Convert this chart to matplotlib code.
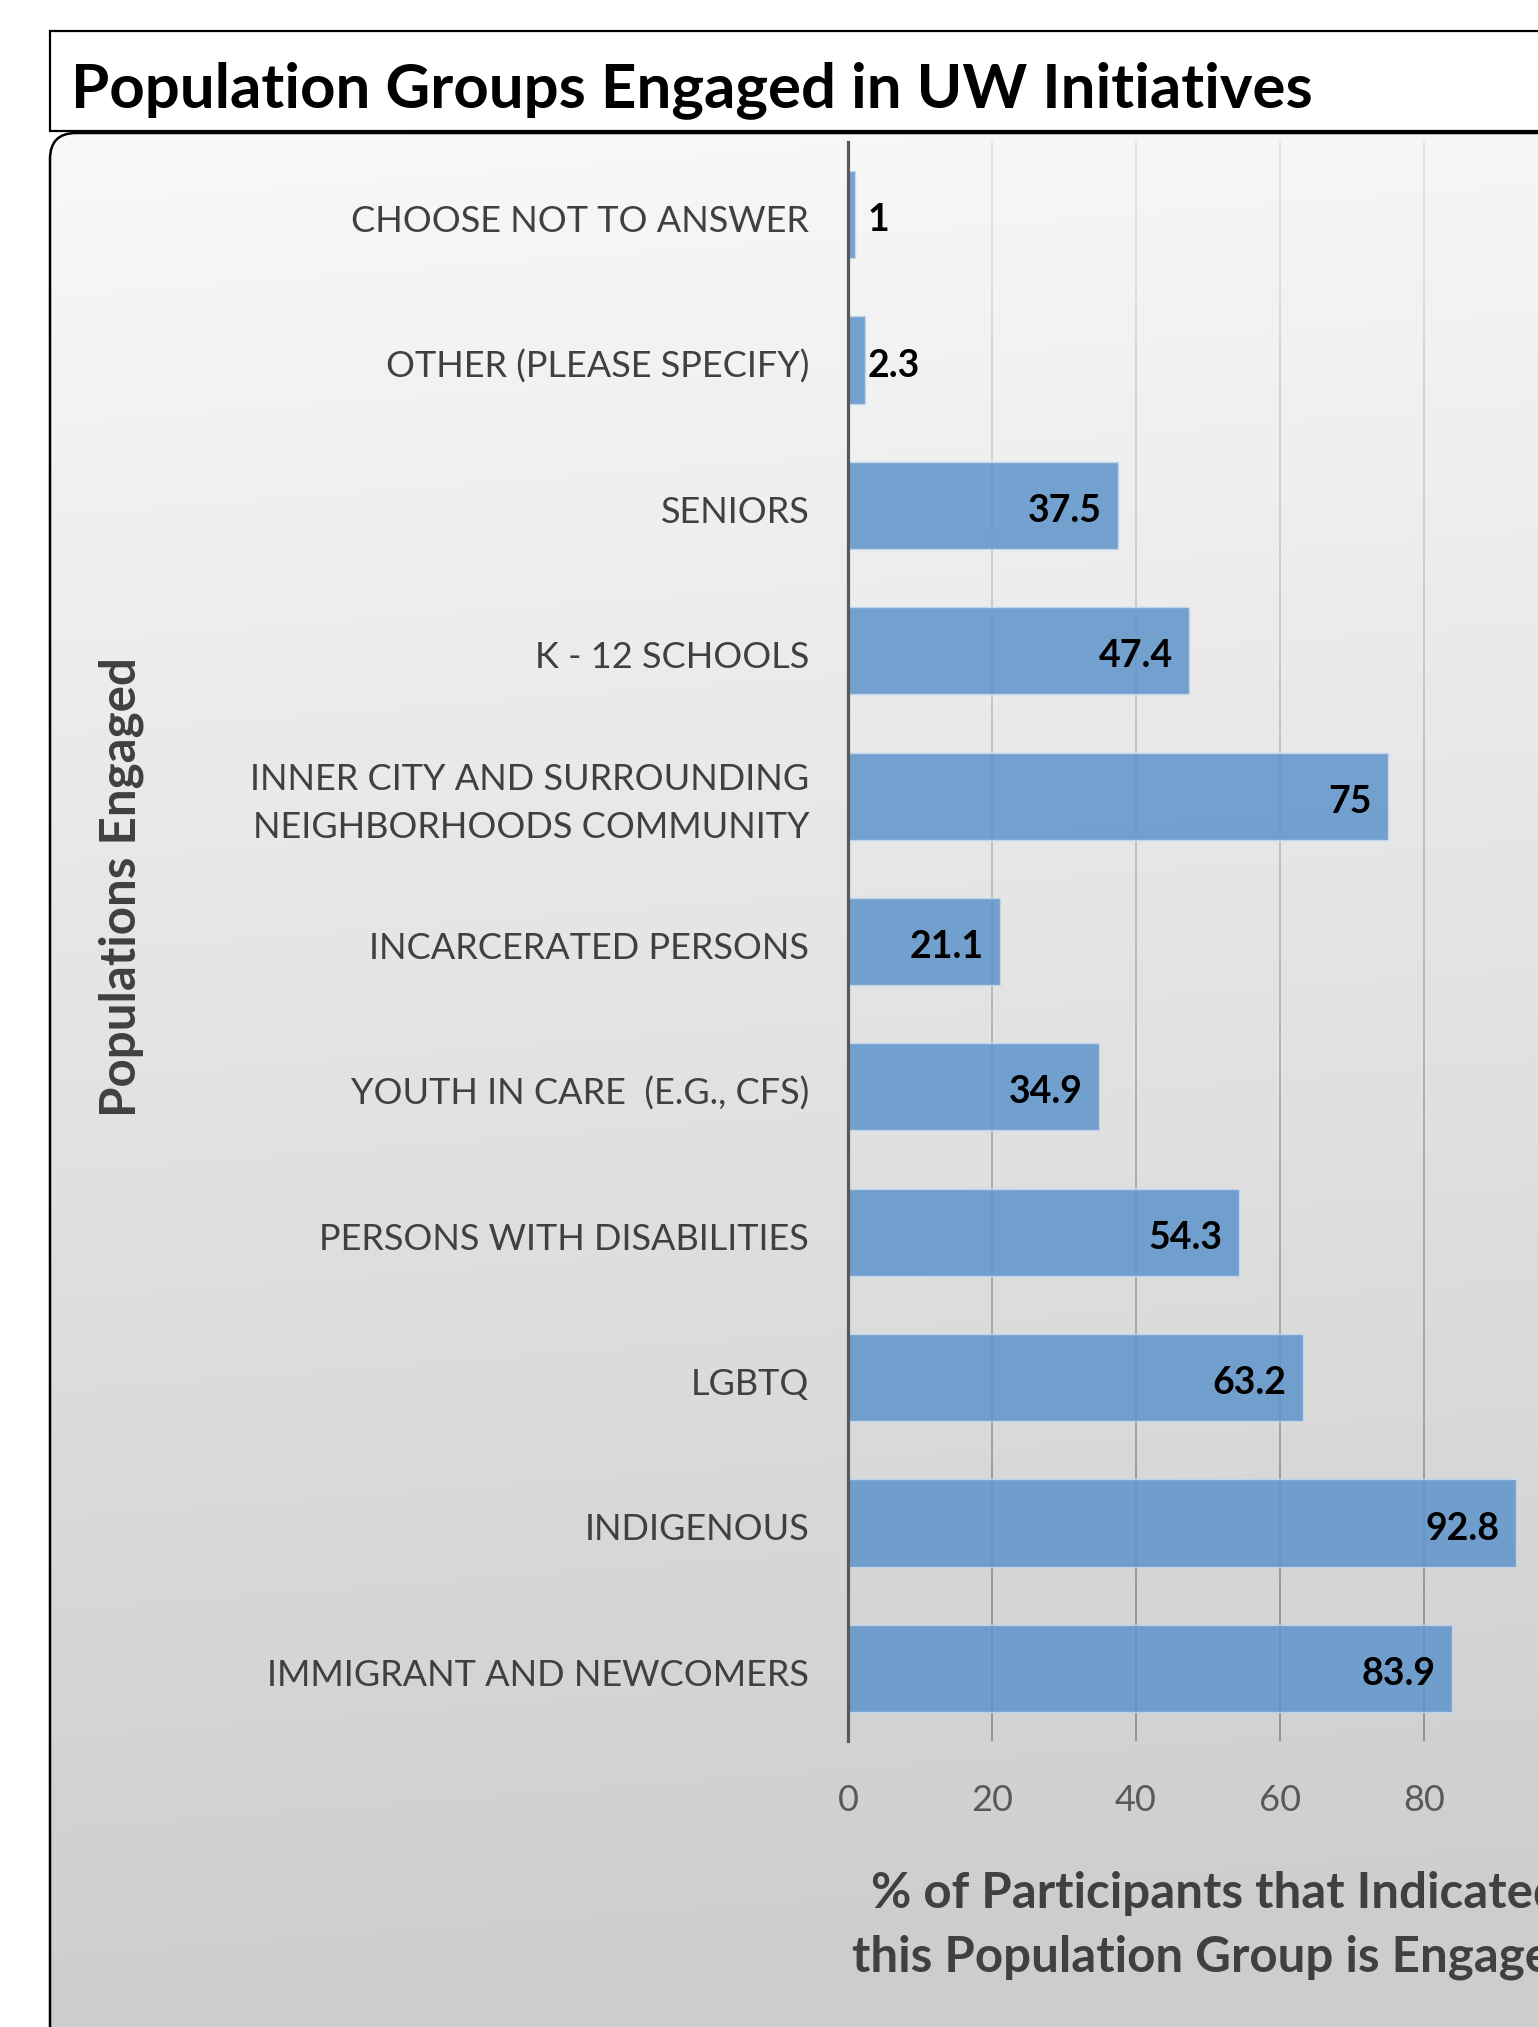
import matplotlib
matplotlib.use("Agg")
import matplotlib.pyplot as plt
import numpy as np
from matplotlib.patches import FancyBboxPatch, Rectangle
from matplotlib.collections import LineCollection
from matplotlib.colors import to_rgb
from matplotlib.transforms import ScaledTranslation

plt.rcParams['font.family'] = ['Lato', 'DejaVu Sans']

# Data
categories = [
    'CHOOSE NOT TO ANSWER',
    'OTHER (PLEASE SPECIFY)',
    'SENIORS',
    'K - 12 SCHOOLS',
    'INNER CITY AND SURROUNDING\nNEIGHBORHOODS COMMUNITY',
    'INCARCERATED PERSONS',
    'YOUTH IN CARE  (E.G., CFS)',
    'PERSONS WITH DISABILITIES',
    'LGBTQ',
    'INDIGENOUS',
    'IMMIGRANT AND NEWCOMERS',
]
percent_engaged = [1, 2.3, 37.5, 47.4, 75, 21.1, 34.9, 54.3, 63.2, 92.8, 83.9]
x_ticks = [0, 20, 40, 60, 80]
grid_x = [20, 40, 60, 80, 100]

title = 'Population Groups Engaged in UW Initiatives'
y_title = 'Populations Engaged'
x_title = '% of Participants that Indicated\nthis Population Group is Engaged'

W, H = 1538, 2027
fig = plt.figure(figsize=(W / 100, H / 100), dpi=100)

# Background layer in pixel coordinates
bg = fig.add_axes([0, 0, 1, 1])
bg.set_xlim(0, W)
bg.set_ylim(H, 0)
bg.axis('off')

# Title box
bg.add_patch(Rectangle((50, 31), 1700, 100, facecolor='white',
                       edgecolor='black', linewidth=1.6, zorder=1))
bg.text(71, 107, title, fontsize=44.5, fontweight='bold', color='black',
        ha='left', va='baseline', zorder=2)

# Rounded chart frame with grey gradient fill
frame = FancyBboxPatch((50, 133), 1700, 1920,
                       boxstyle='round,pad=0,rounding_size=26',
                       facecolor='none', edgecolor='black', linewidth=1.8,
                       zorder=3)
bg.add_patch(frame)
yy, xx = np.mgrid[0:H:4, 0:W:4]
t = np.clip((yy - 133) / 1900 + 0.06 * (xx - 50) / 1500, 0, 1)
shade = 0.975 - 0.17 * t
grad = bg.imshow(np.dstack([shade, shade, shade]), extent=(0, W, H, 0),
                 interpolation='bilinear', zorder=0)
grad.set_clip_path(frame)

# Axis titles
bg.text(121, 887, y_title, rotation=90, fontsize=35.5, fontweight='bold',
        color='#404040', ha='center', va='center', zorder=4)
bg.text(1216, 1926, x_title, fontsize=35.5, fontweight='bold', color='#404040',
        ha='center', va='center', linespacing=1.5, zorder=4)

# Main plot area (extends past the right edge of the canvas)
left, right, top, bottom = 848, 1568, 142, 1741
ax = fig.add_axes([left / W, 1 - bottom / H, (right - left) / W, (bottom - top) / H])
ax.patch.set_alpha(0)

y = np.arange(len(categories))
ax.set_xlim(0, 100)
ax.set_ylim(len(categories) - 0.5, -0.5)

# Gridlines fading from light grey at the top to darker grey at the bottom
c_top, c_bot = np.array(to_rgb('#dedede')), np.array(to_rgb('#868686'))
n = 80
edges = np.linspace(-0.5, len(categories) - 0.5, n + 1)
segs, cols = [], []
for xv in grid_x:
    for i in range(n):
        segs.append([(xv, edges[i]), (xv, edges[i + 1])])
        cols.append(c_top + (c_bot - c_top) * (i + 0.5) / n)
ax.add_collection(LineCollection(segs, colors=cols, linewidths=1.2, zorder=1))

ax.barh(y, percent_engaged, height=0.6, color='#5f95cb', alpha=0.86,
        edgecolor='#c4d8ee', linewidth=1.0, zorder=2)

# Value labels: inside the bar end, or just right of the axis for short bars
for yi, v in zip(y, percent_engaged):
    label = f'{v:g}'
    if v < 10:
        ax.annotate(label, (0, yi), xytext=(14, -4), textcoords='offset points',
                    ha='left', va='center', fontsize=27, fontweight='bold',
                    color='black', zorder=3)
    else:
        ax.annotate(label, (v, yi), xytext=(-12, -4), textcoords='offset points',
                    ha='right', va='center', fontsize=27, fontweight='bold',
                    color='black', zorder=3)

ax.set_yticks(y)
ax.set_yticklabels(categories, fontsize=26, color='#404040')
ax.set_xticks(x_ticks)
ax.set_xticklabels([str(v) for v in x_ticks], fontsize=26, color='#595959')
ax.tick_params(axis='y', length=0, pad=28)
ax.tick_params(axis='x', length=0, pad=31)

# nudge category labels down a little; wrapped ones sit slightly higher
for lbl in ax.get_yticklabels():
    dy = 0.03 if '\n' in lbl.get_text() else -0.04
    lbl.set_linespacing(1.55)
    lbl.set_transform(lbl.get_transform() +
                      ScaledTranslation(0, dy, fig.dpi_scale_trans))

for side in ['top', 'right', 'bottom']:
    ax.spines[side].set_visible(False)
ax.spines['left'].set_color('#595959')
ax.spines['left'].set_linewidth(2.3)
ax.spines['left'].set_zorder(4)

fig.savefig('out.png', dpi=100)
